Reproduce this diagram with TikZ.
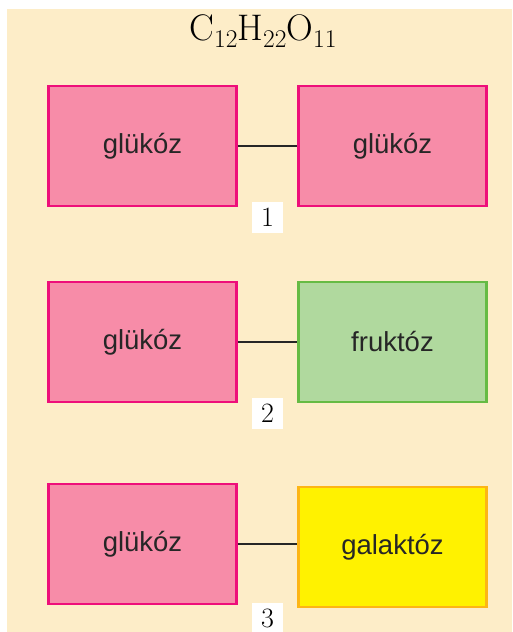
\documentclass[tikz,border=0pt]{standalone}
\usepackage{fontspec}
\newfontfamily\boxfont{Liberation Sans}
\usetikzlibrary{positioning}

\definecolor{beige}{HTML}{FDEDC8}
\definecolor{pinkfill}{HTML}{F78CA8}
\definecolor{pinkline}{HTML}{EE0F7A}
\definecolor{greenfill}{HTML}{B0D99E}
\definecolor{greenline}{HTML}{66BB44}
\definecolor{yellowfill}{HTML}{FFF200}
\definecolor{yellowline}{HTML}{FDB515}

\begin{document}
\begin{tikzpicture}[x=1pt,y=-1pt,node distance=250pt,
                    every node/.style={inner sep=0pt}]
  \tikzstyle{sugar}=[draw,line width=2.6pt,minimum width=188pt,minimum height=120pt,
                     font=\boxfont\fontsize{27.5}{27.5}\selectfont,text=black!85]
  \tikzstyle{glu}=[sugar,fill=pinkfill,draw=pinkline]
  \tikzstyle{fru}=[sugar,fill=greenfill,draw=greenline]
  \tikzstyle{gal}=[sugar,fill=yellowfill,draw=yellowline]
  \tikzstyle{num}=[fill=white,minimum size=31pt,font=\fontsize{28}{28}\selectfont]
  \tikzstyle{bond}=[line width=1.3pt,black!85]

  \useasboundingbox (0,0) rectangle (512,632);
  \fill[beige] (7,9) rectangle (512,632);

  \node (T) at (263,31) {\fontsize{37}{37}\selectfont C\raisebox{-7pt}{\fontsize{25.5}{25.5}\selectfont 12}H\raisebox{-7pt}{\fontsize{25.5}{25.5}\selectfont 22}O\raisebox{-7pt}{\fontsize{25.5}{25.5}\selectfont 11}};

  \node[glu] (A1) at (142.5,146) {glükóz};
  \node[glu] (B1) [right of=A1]  {glükóz};
  \node[num] (N1) at (267.5,217.5) {1};

  \node[glu] (A2) at (142.5,342) {glükóz};
  \node[fru] (B2) [right of=A2]  {fruktóz};
  \node[num] (N2) at (267.5,413.5) {2};

  \node[glu] (A3) at (142.5,544) {glükóz};
  \node[gal] (B3) at (392.5,547) {galaktóz};
  \node[num] (N3) at (267.5,618) {3};

  \draw[bond] (A1) -- (B1);
  \draw[bond] (A2) -- (B2);
  \draw[bond] (A3.east) -- (A3.east -| B3.west);
\end{tikzpicture}
\end{document}
